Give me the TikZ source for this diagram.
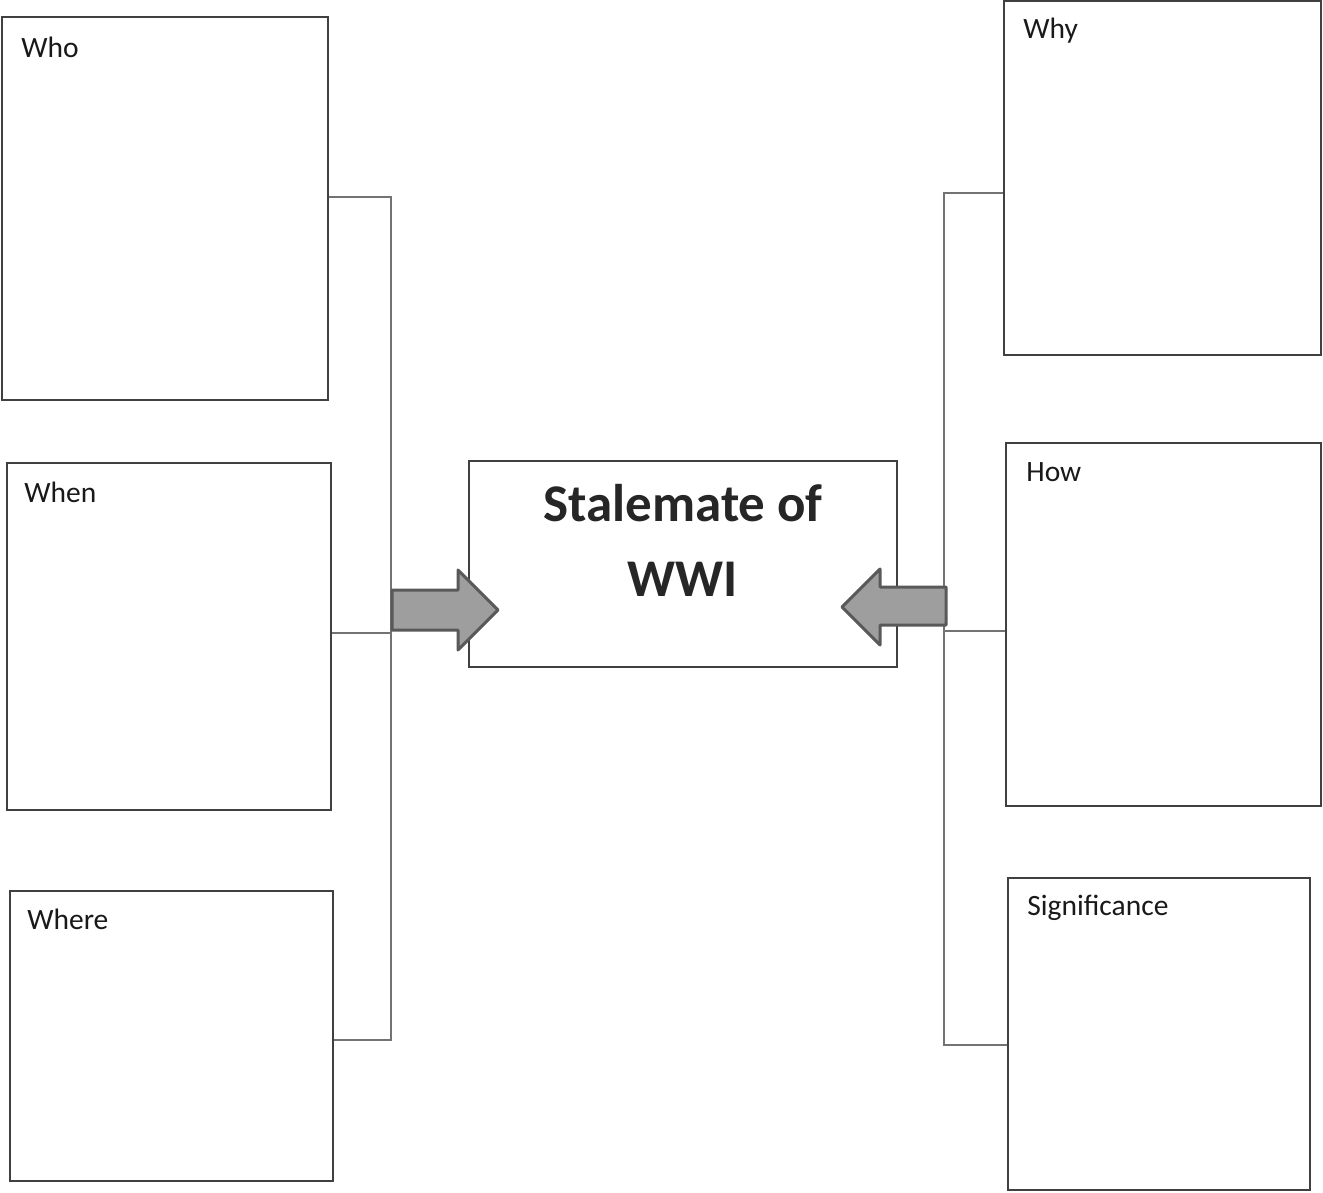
\documentclass[tikz,border=0pt]{standalone}
\usepackage{fontspec}
\setmainfont{Carlito}
\usetikzlibrary{positioning}

\begin{document}
\begin{tikzpicture}[x=1pt,y=-1pt,
  infobox/.style={draw=black!75,line width=1.6pt,inner sep=0pt},
  tag/.style={inner sep=0pt,font=\fontsize{29.5}{35}\selectfont,text=black!90},
  link/.style={draw=black!55,line width=1.3pt},
  blockarrow/.style={fill=black!38,draw=black!65,line width=3pt,line join=round}]
\useasboundingbox (0,0) rectangle (1323,1192);
% question boxes
\foreach \nm/\cx/\cy/\w/\h/\txt/\dx/\dy in {
  who/165/208.5/326/383/Who/20/21,
  when/169/636.5/324/347/When/18/20,
  where/171.5/1036/323/290/Where/18/19,
  why/1162.5/178/317/354/Why/20/18,
  how/1163.5/624.5/315/363/How/21/20,
  sig/1159/1034/302/312/Significance/20/18}
{
\node[infobox,minimum width=\w pt,minimum height=\h pt] (\nm) at (\cx,\cy) {};
\node[tag,below right=\dy pt and \dx pt of \nm.north west] (\nm-tag) {\txt};
}
% centre
\node[infobox,minimum width=428pt,minimum height=206pt] (topic) at (683,564) {};
\node[inner sep=0pt,anchor=north,align=center,text=black!85,
  font=\bfseries\fontsize{53}{75}\selectfont] (topic-tag) at (683,484) {Stalemate of\\WWI};
% brackets
\coordinate (ltop) at (391,197);
\coordinate (lmid) at (391,633);
\coordinate (lbot) at (391,1040);
\draw[link] (ltop -| who.east) -- (ltop) -- (lbot) -- (lbot -| where.east);
\draw[link] (lmid -| when.east) -- (lmid);
\coordinate (rtop) at (944,193);
\coordinate (rmid) at (944,631);
\coordinate (rbot) at (944,1045);
\draw[link] (rtop -| why.west) -- (rtop) -- (rbot) -- (rbot -| sig.west);
\draw[link] (rmid -| how.west) -- (rmid);
% arrows
\draw[blockarrow] (392,590) -- (458,590) -- (458,570) -- (498,610)
  -- (458,650) -- (458,630) -- (392,630) -- cycle;
\draw[blockarrow] (946,587) -- (880,587) -- (880,569) -- (842,607)
  -- (880,645) -- (880,625) -- (946,625) -- cycle;
\end{tikzpicture}
\end{document}
